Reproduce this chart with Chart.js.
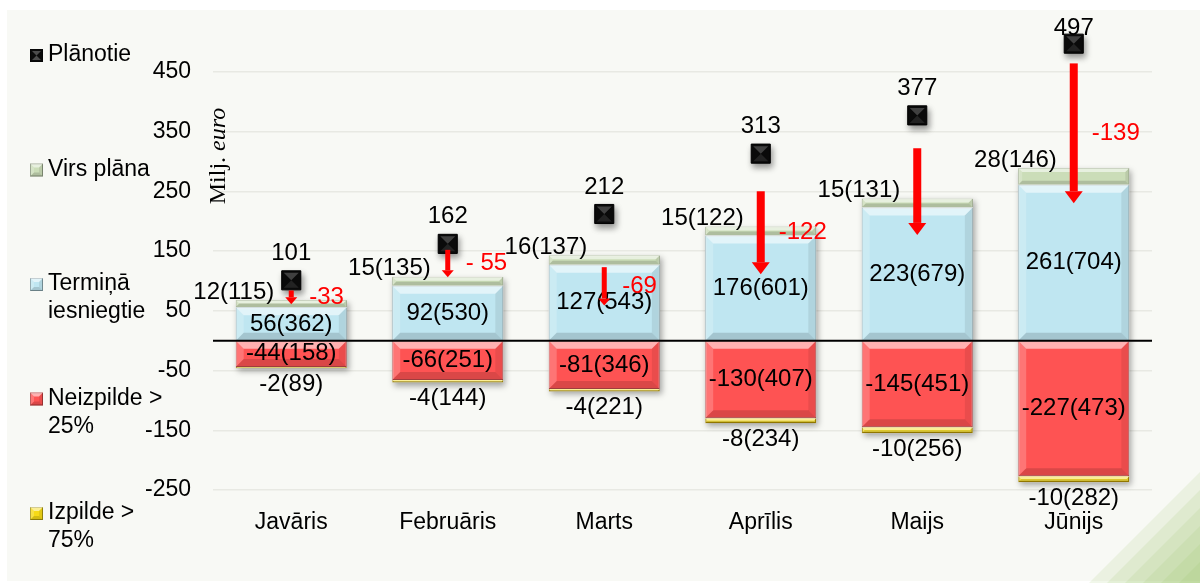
<!DOCTYPE html>
<html lang="lv">
<head>
<meta charset="utf-8">
<title>Plānotie un iesniegtie</title>
<script src="https://cdn.jsdelivr.net/npm/chart.js@4.4.1/dist/chart.umd.min.js"></script>
<style>
  html, body { margin: 0; padding: 0; background: #fff; }
  #wrap { width: 1200px; height: 583px; }
</style>
</head>
<body>
<div id="wrap"><canvas id="myChart" width="1200" height="583"></canvas></div>
<script>
// Values (milj. euro, in brackets the count)
const months = ['Javāris', 'Februāris', 'Marts', 'Aprīlis', 'Maijs', 'Jūnijs'];
const planned = [101, 162, 212, 313, 377, 497];
const onTime = [56, 92, 127, 176, 223, 261];
const onTimeCount = [362, 530, 543, 601, 679, 704];
const abovePlan = [12, 15, 16, 15, 15, 28];
const abovePlanCount = [115, 135, 137, 122, 131, 146];
const under25 = [-44, -66, -81, -130, -145, -227];
const under25Count = [158, 251, 346, 407, 451, 473];
const over75 = [-2, -4, -4, -8, -10, -10];
const over75Count = [89, 144, 221, 234, 256, 282];
// red arrows: start and end value, and their red note
const arrowFrom = [84, 152, 123, 250, 322, 464];
const arrowTo = [61, 106, 59, 111, 177, 230];
const arrowText = ['-33', '- 55', '-69', '-122', '', '-139'];
const yTicks = [-250, -150, -50, 50, 150, 250, 350, 450];

const FONT = "'Liberation Sans', Arial, sans-serif";
const SERIF = "'Liberation Serif', 'Times New Roman', serif";
Chart.defaults.font.family = FONT;
Chart.defaults.color = '#000';

// Fills a bar rectangle with a bevel look (light top/left, dark bottom/right)
function bevel(ctx, l, t, r, b, size) {
  const s = Math.min(size, (b - t) / 2, (r - l) / 2);
  if (s <= 0.5) return;
  const poly = (pts, fill) => {
    ctx.beginPath();
    ctx.moveTo(pts[0][0], pts[0][1]);
    for (let k = 1; k < pts.length; k++) ctx.lineTo(pts[k][0], pts[k][1]);
    ctx.closePath();
    ctx.fillStyle = fill;
    ctx.fill();
  };
  poly([[l, t], [r, t], [r - s, t + s], [l + s, t + s]], 'rgba(255,255,255,0.55)');
  poly([[l, t], [l + s, t + s], [l + s, b - s], [l, b]], 'rgba(255,255,255,0.2)');
  poly([[r, t], [r, b], [r - s, b - s], [r - s, t + s]], 'rgba(0,0,0,0.08)');
  poly([[l, b], [r, b], [r - s, b - s], [l + s, b - s]], 'rgba(0,0,0,0.14)');
}

function text(ctx, str, x, y, align, size, color) {
  ctx.font = size + 'px ' + FONT;
  ctx.fillStyle = color || '#000';
  ctx.textAlign = align;
  ctx.textBaseline = 'middle';
  ctx.fillText(str, x, y);
}

const decorPlugin = {
  id: 'decor',
  beforeDraw(chart) {
    const ctx = chart.ctx;
    ctx.save();
    ctx.fillStyle = '#fff';
    ctx.fillRect(0, 0, chart.width, chart.height);
    ctx.fillStyle = '#f8f9f5';
    ctx.fillRect(7, 10, chart.width - 7, 571);
    // green stripes in the bottom right corner
    for (let k = 0; k < 6; k++) {
      const c = 1672 + k * 18;
      ctx.beginPath();
      ctx.moveTo(c - 583, 583);
      ctx.lineTo(1200, 583);
      ctx.lineTo(1200, c - 1200);
      ctx.closePath();
      ctx.fillStyle = 'rgba(150,190,90,0.13)';
      ctx.fill();
    }
    ctx.restore();
  },
  beforeDatasetsDraw(chart) {
    // drop shadow under each stack
    const ctx = chart.ctx;
    const top = chart.getDatasetMeta(2).data;
    const bot = chart.getDatasetMeta(4).data;
    ctx.save();
    ctx.shadowColor = 'rgba(0,0,0,0.35)';
    ctx.shadowBlur = 6;
    ctx.shadowOffsetX = 2;
    ctx.shadowOffsetY = 3;
    ctx.fillStyle = '#f8f9f5';
    top.forEach((el, i) => {
      const w = el.width;
      ctx.fillRect(el.x - w / 2, el.y, w, bot[i].y - el.y);
    });
    ctx.restore();
  },
  beforeDatasetDraw(chart, args) {
    if (args.index === 0) {
      const ctx = chart.ctx;
      ctx.save();
      ctx.shadowColor = 'rgba(0,0,0,0.4)';
      ctx.shadowBlur = 6;
      ctx.shadowOffsetX = 2;
      ctx.shadowOffsetY = 4;
    }
  },
  afterDatasetDraw(chart, args) {
    const ctx = chart.ctx;
    if (args.index === 0) {
      ctx.restore();
      // hourglass shading of the black squares
      args.meta.data.forEach(el => {
        const s = 9.5;
        ctx.fillStyle = 'rgba(110,110,110,0.55)';
        ctx.beginPath();
        ctx.moveTo(el.x - s + 2, el.y - s + 2);
        ctx.lineTo(el.x + s - 2, el.y - s + 2);
        ctx.lineTo(el.x, el.y);
        ctx.closePath();
        ctx.fill();
        ctx.fillStyle = 'rgba(80,80,80,0.35)';
        ctx.beginPath();
        ctx.moveTo(el.x - s + 2, el.y + s - 2);
        ctx.lineTo(el.x + s - 2, el.y + s - 2);
        ctx.lineTo(el.x, el.y);
        ctx.closePath();
        ctx.fill();
      });
      return;
    }
    const size = args.index === 2 || args.index === 4 ? 4 : 8;
    args.meta.data.forEach(el => {
      const p = el.getProps(['x', 'y', 'base', 'width'], true);
      const t = Math.min(p.y, p.base), b = Math.max(p.y, p.base);
      bevel(ctx, p.x - p.width / 2, t, p.x + p.width / 2, b, size);
    });
  },
  afterDatasetsDraw(chart) {
    const ctx = chart.ctx;
    const ys = chart.scales.y;
    const area = chart.chartArea;
    ctx.save();
    // zero line
    const z = ys.getPixelForValue(0);
    ctx.strokeStyle = '#000';
    ctx.lineWidth = 2;
    ctx.beginPath();
    ctx.moveTo(area.left, z);
    ctx.lineTo(area.right, z);
    ctx.stroke();

    const pts = chart.getDatasetMeta(0).data;
    const blue = chart.getDatasetMeta(1).data;
    const green = chart.getDatasetMeta(2).data;
    const red = chart.getDatasetMeta(3).data;
    const yellow = chart.getDatasetMeta(4).data;
    months.forEach((m, i) => {
      text(ctx, onTime[i] + '(' + onTimeCount[i] + ')', blue[i].x, (blue[i].y + blue[i].base) / 2, 'center', 24);
      text(ctx, under25[i] + '(' + under25Count[i] + ')', red[i].x, (red[i].y + red[i].base) / 2, 'center', 24);
      text(ctx, abovePlan[i] + '(' + abovePlanCount[i] + ')', green[i].x - 17, green[i].y - 8, 'right', 24);
      text(ctx, over75[i] + '(' + over75Count[i] + ')', yellow[i].x, yellow[i].y + 16, 'center', 24);
      text(ctx, String(planned[i]), pts[i].x, Math.max(pts[i].y - 27, area.top + 16), 'center', 24);

      // red arrow
      const x = pts[i].x;
      const y1 = ys.getPixelForValue(arrowFrom[i]);
      const y2 = ys.getPixelForValue(arrowTo[i]);
      const big = y2 - y1 > 60;
      const sw = big ? 8 : 5, hw = big ? 18 : 12, hl = big ? 12 : 7;
      ctx.fillStyle = '#ff0000';
      ctx.fillRect(x - sw / 2, y1, sw, y2 - y1 - hl);
      ctx.beginPath();
      ctx.moveTo(x - hw / 2, y2 - hl);
      ctx.lineTo(x + hw / 2, y2 - hl);
      ctx.lineTo(x, y2);
      ctx.closePath();
      ctx.fill();
      if (arrowText[i]) text(ctx, arrowText[i], x + 18, (y1 + y2) / 2, 'left', 24, '#ff0000');
    });

    // axis title
    ctx.translate(area.left + 6, area.top + 144);
    ctx.rotate(-Math.PI / 2);
    ctx.textBaseline = 'middle';
    ctx.textAlign = 'left';
    ctx.fillStyle = '#000';
    ctx.font = '24px ' + SERIF;
    const a = 'Milj. ';
    const wa = ctx.measureText(a).width;
    ctx.font = 'italic 24px ' + SERIF;
    const wb = ctx.measureText('euro').width;
    const start = -(wa + wb) / 2;
    ctx.font = '24px ' + SERIF;
    ctx.fillText(a, start, 0);
    ctx.font = 'italic 24px ' + SERIF;
    ctx.fillText('euro', start + wa, 0);
    ctx.restore();
  },
  afterDraw(chart) {
    // legend on the left, one item per ~115px
    const ctx = chart.ctx;
    const order = [0, 2, 1, 3, 4];
    ctx.save();
    order.forEach((di, k) => {
      const ds = chart.data.datasets[di];
      const y = 55 + k * 114.5;
      const l = 30, t = y - 6, s = 13;
      ctx.fillStyle = ds.backgroundColor;
      ctx.fillRect(l, t, s, s);
      ctx.strokeStyle = 'rgba(0,0,0,0.35)';
      ctx.lineWidth = 1;
      ctx.strokeRect(l + 0.5, t + 0.5, s - 1, s - 1);
      if (di === 0) {
        ctx.fillStyle = 'rgba(120,120,120,0.6)';
        ctx.beginPath();
        ctx.moveTo(l + 2, t + 2); ctx.lineTo(l + s - 2, t + 2); ctx.lineTo(l + s / 2, t + s / 2);
        ctx.moveTo(l + 2, t + s - 2); ctx.lineTo(l + s - 2, t + s - 2); ctx.lineTo(l + s / 2, t + s / 2);
        ctx.fill();
      } else {
        bevel(ctx, l, t, l + s, t + s, 4);
      }
      // wrap the label to two lines when it is long
      ctx.font = '23px ' + FONT;
      const words = ds.label.split(' ');
      const lines = [];
      let cur = '';
      words.forEach(w => {
        const test = cur ? cur + ' ' + w : w;
        if (ctx.measureText(test).width > 130 && cur) { lines.push(cur); cur = w; } else cur = test;
      });
      lines.push(cur);
      lines.forEach((ln, j) => text(ctx, ln, 48, y + j * 28, 'left', 23));
    });
    ctx.restore();
  }
};

const ctx = document.getElementById('myChart').getContext('2d');
const myChart = new Chart(ctx, {
  type: 'bar',
  data: {
    labels: months,
    datasets: [
      {
        type: 'line',
        label: 'Plānotie',
        data: planned,
        stack: 'plan',
        showLine: false,
        pointStyle: 'rect',
        pointRadius: 13.5,
        backgroundColor: '#0b0b0b',
        borderColor: '#000',
        borderWidth: 1
      },
      {
        label: 'Termiņā iesniegtie',
        data: onTime,
        stack: 'a',
        backgroundColor: '#bfe6f1',
        borderColor: '#8aa9b3',
        borderWidth: 1
      },
      {
        label: 'Virs plāna',
        data: abovePlan,
        stack: 'a',
        backgroundColor: '#cbddb8',
        borderColor: '#8d9f78',
        borderWidth: 1
      },
      {
        label: 'Neizpilde > 25%',
        data: under25,
        stack: 'a',
        backgroundColor: '#fe5353',
        borderColor: '#b84848',
        borderWidth: 1
      },
      {
        label: 'Izpilde > 75%',
        data: over75,
        stack: 'a',
        backgroundColor: '#f6da16',
        borderColor: '#a88a00',
        borderWidth: 1.5
      }
    ]
  },
  options: {
    responsive: false,
    animation: false,
    layout: { autoPadding: false, padding: { top: 12, right: 48, left: 0, bottom: 0 } },
    datasets: { bar: { barPercentage: 0.71, categoryPercentage: 1 } },
    plugins: {
      legend: { display: false },
      tooltip: { enabled: false }
    },
    scales: {
      x: {
        stacked: true,
        grid: { display: false },
        border: { display: false },
        ticks: { padding: -7, font: { size: 23 }, color: '#000', maxRotation: 0 },
        afterFit(scale) { scale.height = 75; scale.paddingLeft = 0; scale.paddingRight = 0; }
      },
      y: {
        stacked: true,
        min: -280,
        max: 550,
        grid: { color: '#e8e9e3', lineWidth: 1.5, drawTicks: false },
        border: { display: false },
        ticks: { padding: 22, font: { size: 23 }, color: '#000' },
        afterBuildTicks(scale) { scale.ticks = yTicks.map(v => ({ value: v })); },
        afterFit(scale) { scale.width = 213; scale.paddingTop = 0; scale.paddingBottom = 0; }
      }
    }
  },
  plugins: [decorPlugin]
});
</script>
</body>
</html>
